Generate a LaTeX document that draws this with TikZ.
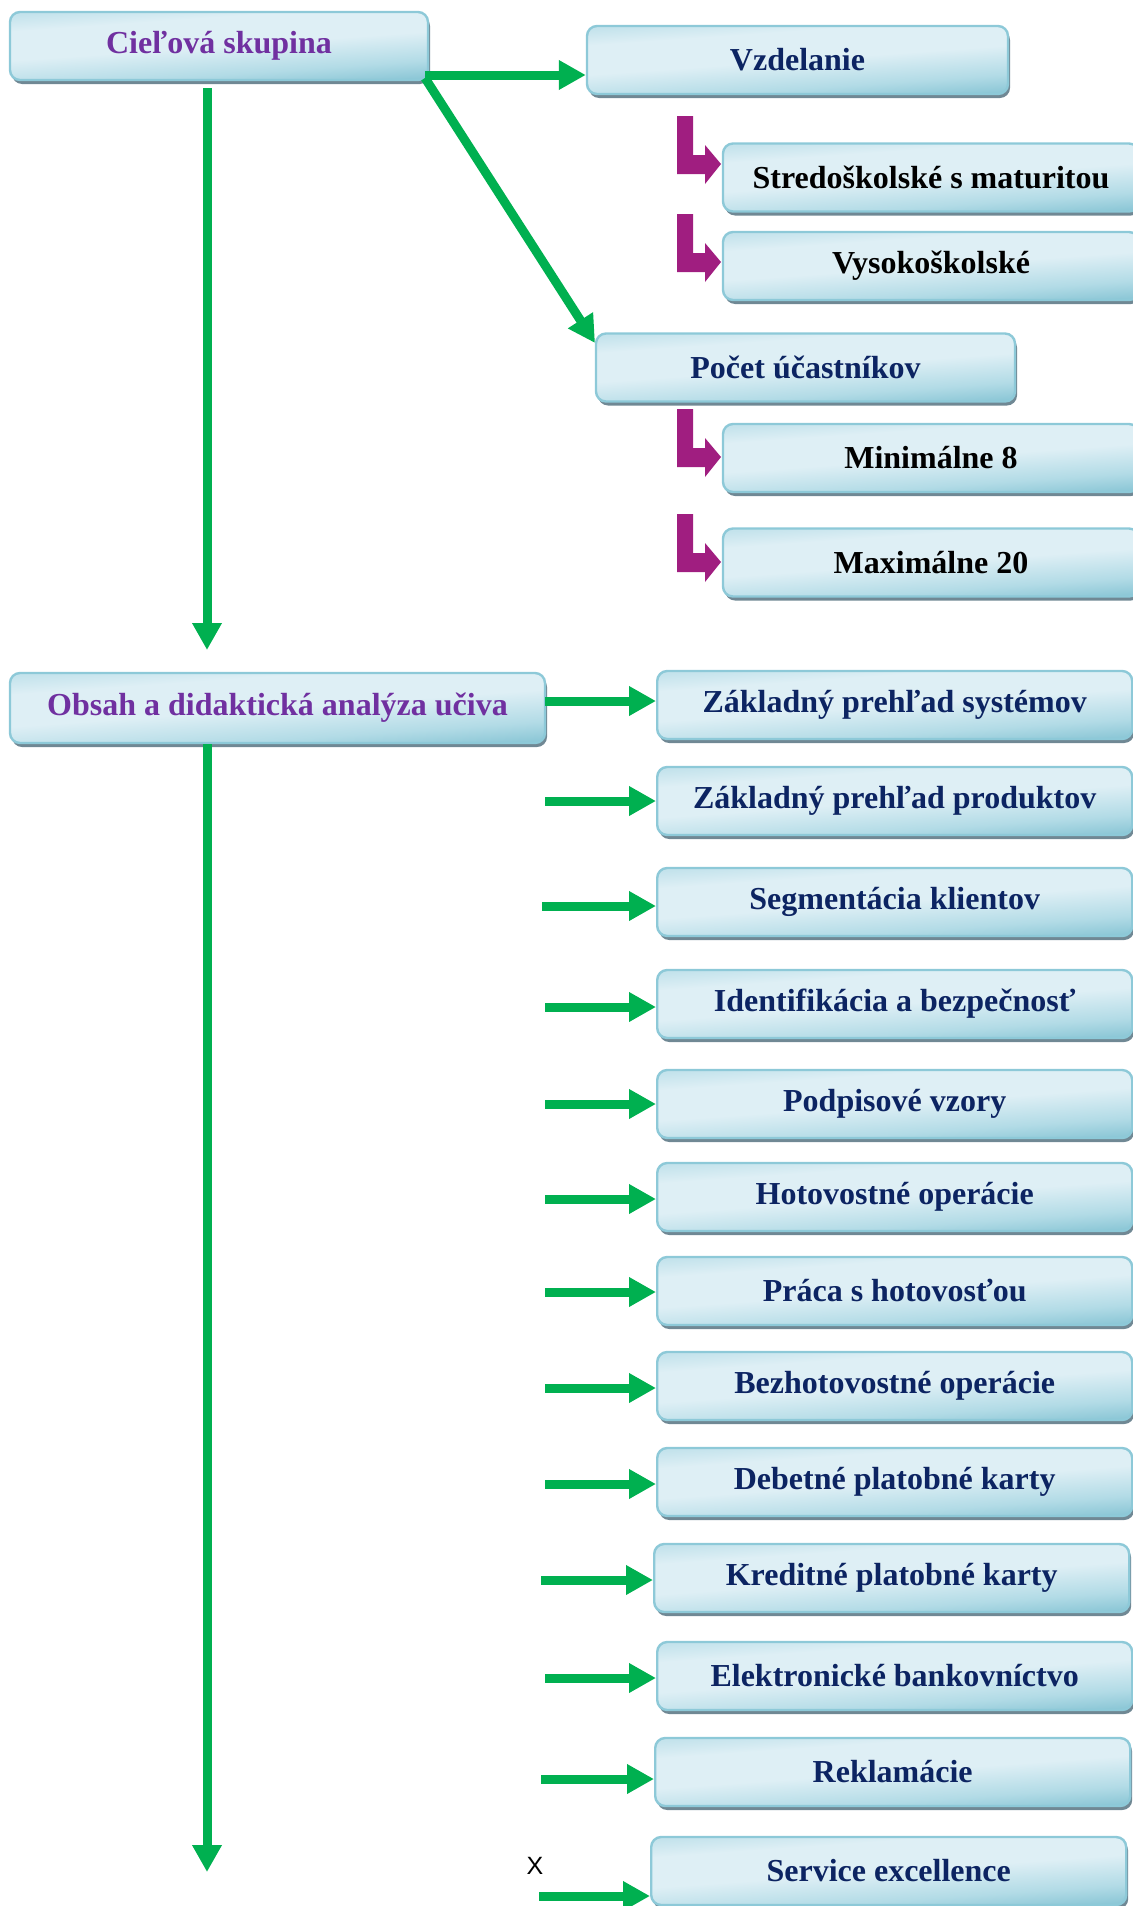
\documentclass[tikz,border=0pt]{standalone}
\usepackage{fontspec}
\setmainfont{Liberation Serif}
\newfontfamily\labelsans{Liberation Sans}
\usetikzlibrary{arrows.meta,shadows}

\definecolor{arrowgreen}{RGB}{0,176,80}
\definecolor{bentmag}{RGB}{160,30,128}
\definecolor{titlepurple}{RGB}{112,48,160}
\definecolor{itemnavy}{RGB}{12,36,98}
\definecolor{boxedge}{RGB}{141,201,216}
\definecolor{boxdark}{RGB}{142,200,215}
\definecolor{boxmid}{RGB}{178,219,230}
\definecolor{boxlight}{RGB}{222,239,245}
\definecolor{boxtop}{RGB}{196,227,236}
\definecolor{boxshadow}{RGB}{112,136,148}
\definecolor{boxtick}{RGB}{70,90,100}

% glossy fill of the boxes: darker band at the bottom, light above
\pgfdeclareverticalshading{boxshade}{100bp}{color(0bp)=(boxdark); color(25bp)=(boxdark); color(34bp)=(boxmid); color(50bp)=(boxlight); color(66bp)=(boxlight); color(75bp)=(boxtop); color(100bp)=(boxtop)}

\tikzset{
  box/.style={draw=boxedge, line width=1.2pt, rounded corners=5pt,
    shading=boxshade, shading angle=4, minimum height=34pt, inner sep=0pt,
    font=\fontsize{16}{19}\selectfont\bfseries,
    drop shadow={fill=boxshadow, opacity=1, shadow xshift=1pt, shadow yshift=-2pt},
    append after command={
      [draw=boxtick, line width=1.6pt, dash pattern=on 0.5pt off 4.5pt]
      ([xshift=6pt,yshift=-1.2pt]\tikzlastnode.south west)
      -- ([xshift=-3pt,yshift=-1.2pt]\tikzlastnode.south east)}},
  mainbox/.style={box, text=titlepurple},
  subbox/.style={box, text=itemnavy},
  leafbox/.style={box, text=black},
  listbox/.style={box, text=itemnavy, anchor=west, minimum width=237.5pt},
  garrow/.style={draw=arrowgreen, line width=4.5pt,
    -{Triangle[length=13.5pt,width=14pt]}},
  bent/.pic={
    \fill[bentmag] (-44,-48) -- (-28,-48) -- (-28,-9) -- (-16,-9) -- (-16,-19)
      -- (0,0) -- (-16,20) -- (-16,10) -- (-44,10) -- cycle;
  },
}

\begin{document}
\begin{tikzpicture}[x=0.5pt, y=-0.5pt]
\useasboundingbox (0,0) rectangle (1133,1906);
\clip (0,0) rectangle (1133,1906);

% top branch: target group
\node[mainbox, minimum width=209pt] (cs) at (219,46) {Cieľová skupina};
\node[subbox, minimum width=210.5pt] (vz) at (797.5,60) {Vzdelanie};
\node[leafbox, minimum width=208pt] (st) at (931,177.5) {Stredoškolské s maturitou};
\node[leafbox, minimum width=208pt] (vy) at (931,266) {Vysokoškolské};
\node[subbox, minimum width=209.5pt] (pc) at (805.5,367.5) {Počet účastníkov};
\node[leafbox, minimum width=208pt] (mn) at (931,458) {Minimálne 8};
\node[leafbox, minimum width=208pt] (mx) at (931,562.5) {Maximálne 20};

\coordinate (csc) at (425,75);
\coordinate (csd) at (425,78);
\draw[garrow] (csc) -- (csc -| vz.west);
\draw[garrow] (csd) -- (595,343);

\pic at (721,164) {bent};
\pic at (721,262) {bent};
\pic at (721,457) {bent};
\pic at (721,562) {bent};

% second branch: content of the course
\node[mainbox, minimum width=267.5pt, minimum height=35pt] (ob) at (277.5,708) {Obsah a didaktická analýza učiva};

\coordinate (v1s) at (207,88);
\coordinate (v1e) at (207,650);
\draw[garrow] (v1s) -- (v1e);
\coordinate (v2e) at (207,1872);
\draw[garrow] (ob.south -| v2e) -- (v2e);

\foreach \nm/\lx/\cy/\ax/\ay/\txt in {
  r1/656/705/545/701/{Základný prehľad systémov},
  r2/656/801/545/801/{Základný prehľad produktov},
  r3/656/902/542/906/{Segmentácia klientov},
  r4/656/1004/545/1007/{Identifikácia a bezpečnosť},
  r5/656/1104/545/1104/{Podpisové vzory},
  r6/656/1197/545/1199/{Hotovostné operácie},
  r7/656/1291/545/1292/{Práca s hotovosťou},
  r8/656/1386/545/1388/{Bezhotovostné operácie},
  r9/656/1482/545/1484/{Debetné platobné karty},
  r10/653/1578/541/1580/{Kreditné platobné karty},
  r11/656/1676/545/1678/{Elektronické bankovníctvo},
  r12/654/1772/541/1779/{Reklamácie},
  r13/650/1871/539/1896/{Service excellence}}
{
  \node[listbox] (\nm) at (\lx,\cy) {\txt};
  \coordinate (s\nm) at (\ax,\ay);
  \draw[garrow] (s\nm) -- (s\nm -| \nm.west);
}

\node[font=\labelsans\fontsize{12.5}{15}\selectfont] (xmark) at (535,1866) {X};
\end{tikzpicture}
\end{document}
